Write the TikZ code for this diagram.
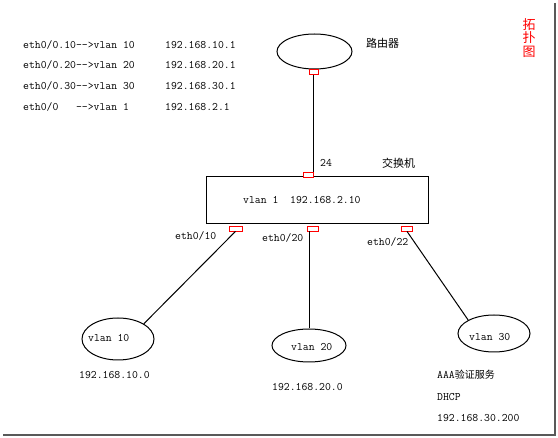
\documentclass[tikz,border=0pt]{standalone}
\usepackage{fontspec}
\newfontfamily\cjk{Noto Sans CJK SC}
\usetikzlibrary{shapes.geometric}
\begin{document}
\begin{tikzpicture}[x=1pt,y=-1pt,
  txt/.style={font=\ttfamily\fontsize{11.4}{13}\selectfont, inner sep=0pt, anchor=west},
  cn/.style={font=\cjk\fontsize{11}{13}\selectfont, inner sep=0pt, anchor=west},
  net/.style={draw, ellipse, line width=1pt, inner sep=0pt},
  port/.style={draw=red, fill=white, line width=0.8pt, minimum width=11pt, minimum height=5pt, inner sep=0pt},
  link/.style={line width=1pt},
  frame/.style={draw=black!65, line width=2pt}]
\useasboundingbox (0,0) rectangle (558,438);
\fill[white] (0,0) rectangle (558,438);
% frame shadow
\coordinate (f1) at (555,3);
\coordinate (f2) at (555,435);
\coordinate (f3) at (3,435);
\draw[frame] (f1) -- (f2) -- (f3);
% title
\node[font=\cjk\fontsize{13}{13.5}\selectfont, text=red, align=center, inner sep=0pt] (title) at (529,38) {拓\\扑\\图};
% mapping list
\node[txt] (l1) at (23,45) {eth0/0.10-->vlan 10};
\node[txt] (l2) at (23,65) {eth0/0.20-->vlan 20};
\node[txt] (l3) at (23,86) {eth0/0.30-->vlan 30};
\node[txt] (l4) at (23,107) {eth0/0\ \ \ -->vlan 1};
\node[txt] (a1) at (165,45) {192.168.10.1};
\node[txt] (a2) at (165,65) {192.168.20.1};
\node[txt] (a3) at (165,86) {192.168.30.1};
\node[txt] (a4) at (165,107) {192.168.2.1};
% router
\node[net, minimum width=75pt, minimum height=35pt] (router) at (314.5,51.5) {};
\node[cn] (routerlbl) at (366,43) {路由器};
\node[port, minimum width=9pt] (rp) at (313.5,72) {};
% switch
\node[draw, line width=1pt, minimum width=222pt, minimum height=47pt, inner sep=0pt] (sw) at (317,200.5) {};
\node[txt] (swlbl) at (243,200) {vlan 1\ \ 192.168.2.10};
\node[cn] (swname) at (382,163) {交换机};
\node[txt] (p24lbl) at (320,163) {24};
\draw[link] (rp.south) -- (rp.south |- sw.north);
\node[port, minimum width=10pt] (sp) at (308,174.5) {};
% switch ports
\node[port, minimum width=13pt] (p1) at (235.5,228.5) {};
\node[port] (p2) at (312.5,228.5) {};
\node[port] (p3) at (407,228.5) {};
\node[txt] (e10) at (175,236) {eth0/10};
\node[txt] (e20) at (262,238) {eth0/20};
\node[txt] (e22) at (367,242) {eth0/22};
% vlans
\node[net, minimum width=72pt, minimum height=42pt] (v10) at (118,339) {};
\node[net, minimum width=74pt, minimum height=33pt] (v20) at (309,345.5) {};
\node[net, minimum width=72pt, minimum height=37pt] (v30) at (494,333.5) {};
\node[txt] (v10lbl) at (88,338) {vlan 10};
\node[txt] (v20lbl) at (291,347) {vlan 20};
\node[txt] (v30lbl) at (469,337) {vlan 30};
\draw[link] (p1.south) -- (v10.north east);
\draw[link] (v20.north |- p2.south) -- (v20.north);
\draw[link] (p3.south) -- (v30.north west);
% subnet labels
\node[txt] (n10) at (79,375) {192.168.10.0};
\node[txt] (n20) at (272,387) {192.168.20.0};
\node[txt] (aaa) at (437,375) {AAA{\cjk\fontsize{10}{12}\selectfont 验证服务}};
\node[txt] (dhcp) at (437,397) {DHCP};
\node[txt] (n30) at (437,418) {192.168.30.200};
\end{tikzpicture}
\end{document}
